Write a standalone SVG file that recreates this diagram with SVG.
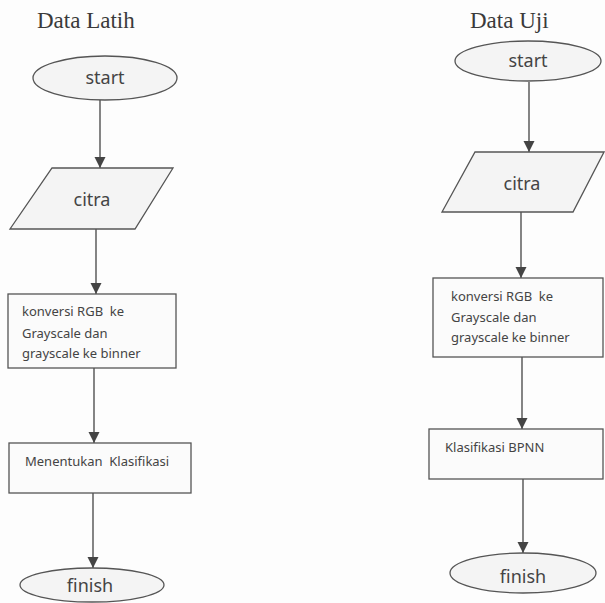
<svg xmlns="http://www.w3.org/2000/svg" width="605" height="603" viewBox="0 0 605 603">
<defs>
<marker id="ah" markerUnits="userSpaceOnUse" markerWidth="12" markerHeight="12" viewBox="0 0 12 12" refX="11" refY="6" orient="auto">
<path d="M0,0.5 L11,6 L0,11.5 Z" fill="#444"/>
</marker>
<style>
.sh{fill:#f4f4f4;stroke:#555;stroke-width:1.3}
.bx{fill:#fbfbfb;stroke:#555;stroke-width:1.3}
.lbl{font-family:"Noto Sans","Open Sans",sans-serif;font-size:18px;fill:#444;text-anchor:middle}
.txt{font-family:"Noto Sans","Open Sans",sans-serif;font-size:13px;fill:#444}
.ttl{font-family:"Liberation Serif","Times New Roman",serif;font-size:23px;fill:#3a3a3a}
.cn{stroke:#444;stroke-width:1.3;fill:none;marker-end:url(#ah)}
</style>
</defs>
<rect width="605" height="603" fill="#fdfdfd"/>
<text class="ttl" x="37" y="28">Data Latih</text>
<text class="ttl" x="470" y="28">Data Uji</text>
<g id="connectors">
<line class="cn" x1="100" y1="100" x2="100" y2="168"/>
<line class="cn" x1="96" y1="229" x2="96" y2="294"/>
<line class="cn" x1="94" y1="368" x2="94" y2="443"/>
<line class="cn" x1="93" y1="493" x2="93" y2="568"/>
<line class="cn" x1="529" y1="82" x2="529" y2="152"/>
<line class="cn" x1="521" y1="212" x2="521" y2="278"/>
<line class="cn" x1="522" y1="357" x2="522" y2="429"/>
<line class="cn" x1="523" y1="479" x2="523" y2="553"/>
</g>
<g id="start1"><ellipse class="sh" cx="105" cy="78" rx="72" ry="22"/><text class="lbl" x="105" y="84">start</text></g>
<g id="citra1"><polygon class="sh" points="52,168 173,168 135,229 10,229"/><text class="lbl" x="92" y="206">citra</text></g>
<g id="conv1"><rect class="bx" x="8" y="294" width="168" height="74"/>
<text class="txt" x="22" y="316">konversi RGB&#160; ke</text>
<text class="txt" x="22" y="338">Grayscale dan</text>
<text class="txt" x="22" y="358">grayscale ke binner</text></g>
<g id="klas1"><rect class="bx" x="9" y="443" width="182" height="50"/><text class="txt" x="25" y="466">Menentukan&#160; Klasifikasi</text></g>
<g id="finish1"><ellipse class="sh" cx="92" cy="585" rx="72" ry="17"/><text class="lbl" x="90" y="592">finish</text></g>
<g id="start2"><ellipse class="sh" cx="528" cy="61" rx="73" ry="20"/><text class="lbl" x="528" y="67">start</text></g>
<g id="citra2"><polygon class="sh" points="475,152 604,152 573,212 442,212"/><text class="lbl" x="522" y="190">citra</text></g>
<g id="conv2"><rect class="bx" x="433" y="278" width="170" height="79"/>
<text class="txt" x="451" y="301">konversi RGB&#160; ke</text>
<text class="txt" x="451" y="322">Grayscale dan</text>
<text class="txt" x="451" y="342">grayscale ke binner</text></g>
<g id="klas2"><rect class="bx" x="429" y="429" width="174" height="50"/><text class="txt" x="445" y="452">Klasifikasi BPNN</text></g>
<g id="finish2"><ellipse class="sh" cx="523" cy="573" rx="73" ry="20"/><text class="lbl" x="523" y="583">finish</text></g>
</svg>
